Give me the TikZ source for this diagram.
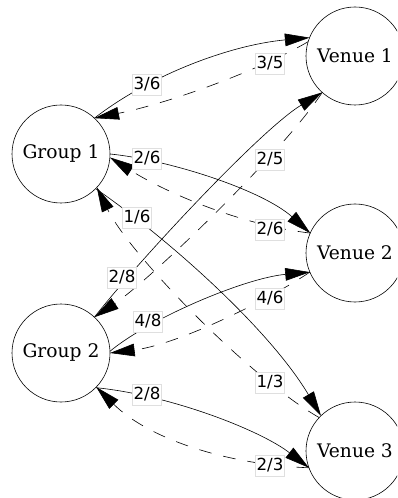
\documentclass[tikz,border=0pt]{standalone}
\usepackage{fontspec}
\setmainfont{DejaVu Serif}
\newfontfamily\lblfont{DejaVu Sans}
\usetikzlibrary{arrows.meta}
\begin{document}
\begin{tikzpicture}[x=0.75pt,y=-0.75pt,
  state/.style={circle,draw,line width=0.45pt,minimum size=73.5pt,inner sep=0pt,outer sep=0pt,font=\fontsize{14}{16}\selectfont},
  edge/.style={line width=0.45pt,-{Triangle[length=18.5pt,width=9.5pt]}},
  dashedge/.style={edge,dash pattern=on 9.5pt off 9pt},
  lbl/.style={fill=white,draw=gray!25,line width=0.4pt,inner xsep=1pt,inner ysep=1.75pt,text height=9.5pt,text depth=2.5pt,font=\lblfont\fontsize{12.5}{14}\selectfont}]
\path[use as bounding box,clip] (0,0) rectangle (397,498);
\node[state] (g1) at (61,154) {Group 1};
\node[state] (g2) at (61,353) {Group 2};
\node[state] (v1) at (355,56) {Venue 1};
\node[state] (v2) at (355,253) {Venue 2};
\node[state] (v3) at (355,451) {Venue 3};
% Group 1 edges
\draw[edge] (g1.47) .. controls (150,75) and (230,45) .. (v1.158);
\draw[dashedge] (v1.163) .. controls (260,70) and (170,103) .. (g1.47);
\draw[edge] (g1.0) .. controls (170,160) and (262,190) .. (v2.156);
\draw[dashedge] (v2.156) .. controls (240,225) and (165,192) .. (g1.-4);
\draw[edge] (g1.-45) .. controls (170,240) and (270,330) .. (v3.134);
\draw[dashedge] (v3.137) .. controls (250,378) and (130,255) .. (g1.-43);
% Group 2 edges
\draw[edge] (g2.47) .. controls (135,265) and (260,130) .. (v1.228);
\draw[dashedge] (v1.228) .. controls (285,150) and (150,280) .. (g2.47);
\draw[edge] (g2.2) .. controls (150,318) and (245,278) .. (v2.203);
\draw[dashedge] (v2.203) .. controls (260,305) and (175,345) .. (g2.0);
\draw[edge] (g2.-45) .. controls (170,395) and (260,430) .. (v3.200);
\draw[dashedge] (v3.200) .. controls (230,465) and (150,440) .. (g2.-44);
% labels
\node[lbl] (l1) at (147,85) {3/6};
\node[lbl] (l2) at (270,64) {3/5};
\node[lbl] (l3) at (147,159) {2/6};
\node[lbl] (l4) at (270,230) {2/6};
\node[lbl] (l5) at (137,218) {1/6};
\node[lbl] (l6) at (270,383) {1/3};
\node[lbl] (l7) at (122,278) {2/8};
\node[lbl] (l8) at (270,160) {2/5};
\node[lbl] (l9) at (148,322) {4/8};
\node[lbl] (l10) at (270,299) {4/6};
\node[lbl] (l11) at (147,395) {2/8};
\node[lbl] (l12) at (270,466) {2/3};
\end{tikzpicture}
\end{document}
